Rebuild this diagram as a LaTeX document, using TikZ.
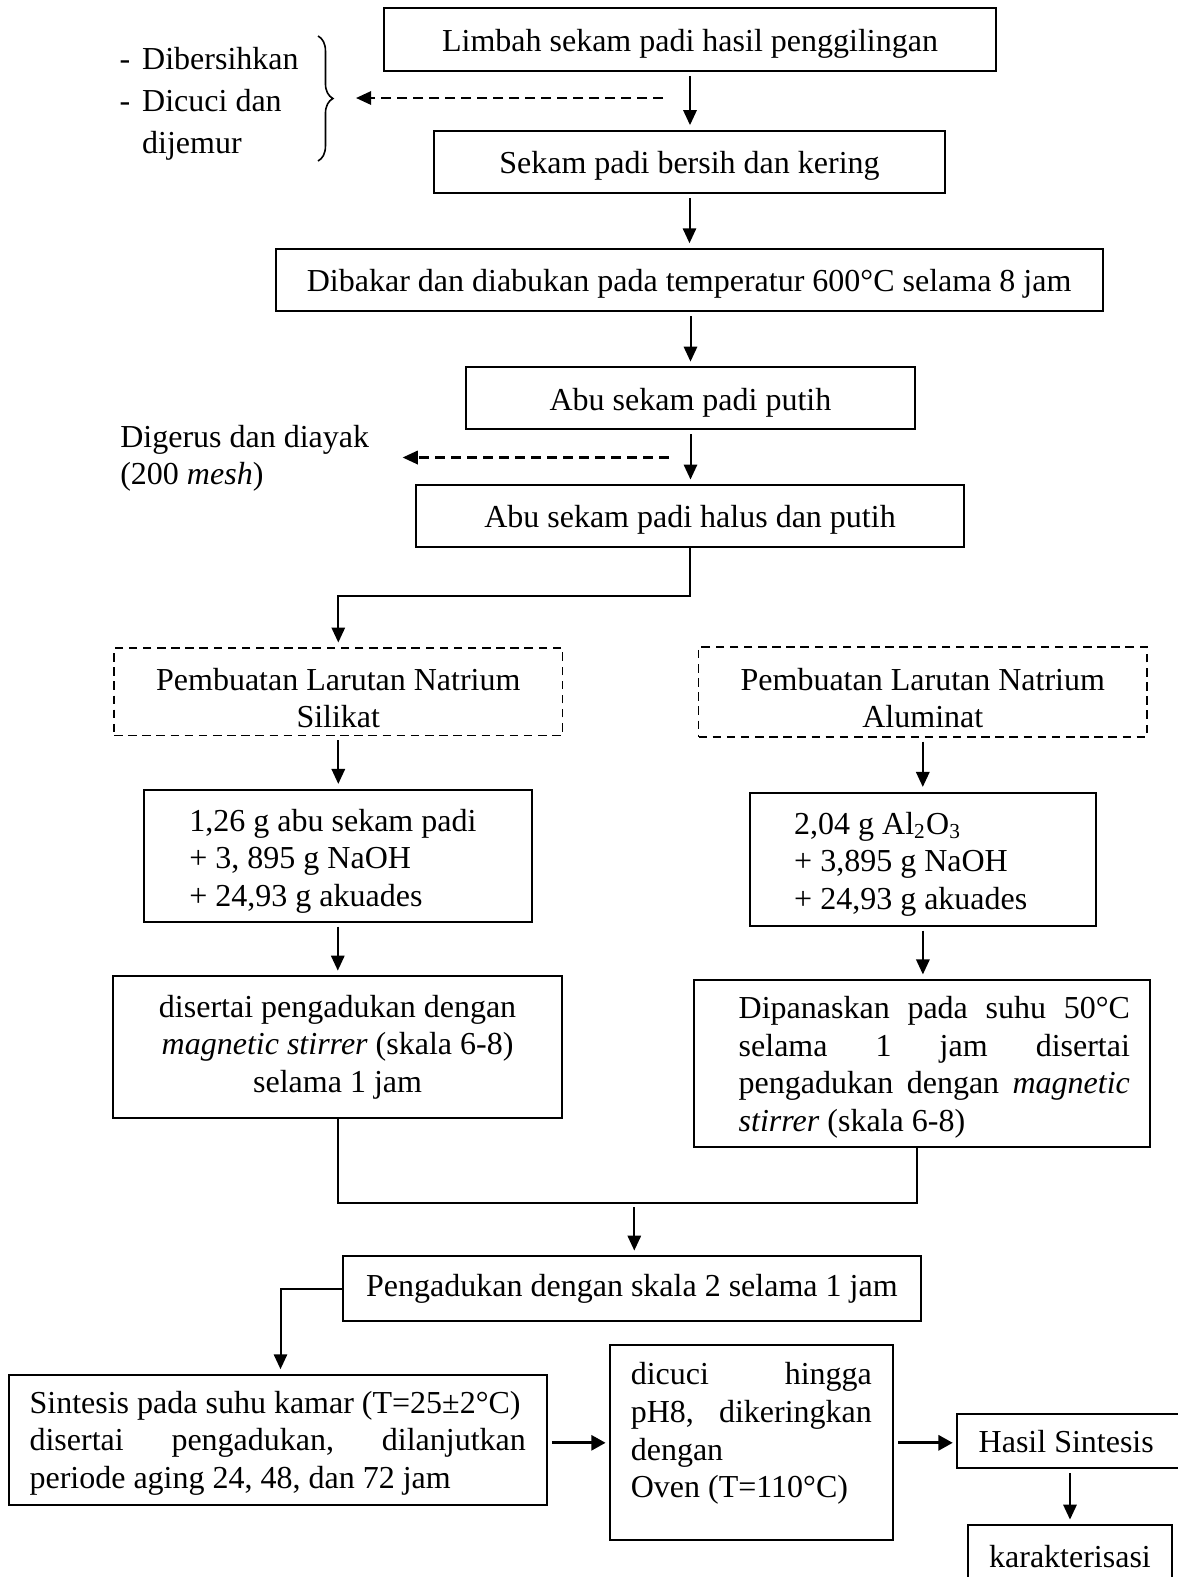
\documentclass[tikz,border=0pt]{standalone}
\usepackage{fontspec}
\setmainfont{Liberation Serif}
\usetikzlibrary{arrows.meta,decorations.pathreplacing}
\newcommand{\Lft}[2]{\makebox[#1][l]{#2}}
\newcommand{\Strut}[1]{\rule{0pt}{#1}}
\begin{document}
\begin{tikzpicture}[x=0.375pt,y=-0.375pt,
  box/.style={draw, line width=0.75pt, inner sep=0pt, font=\fontsize{12}{14.1}\selectfont, align=center},
  topbox/.style={box, text height=11.3pt, text depth=2.6pt},
  dbox/.style={box, line width=0.6pt, dash pattern=on 3.2pt off 2.1pt},
  tip/.style={-{Triangle[length=5.6pt,width=5pt]}},
  arr/.style={line width=0.75pt, tip, shorten <=1.5pt, shorten >=1.8pt},
  arrh/.style={line width=0.75pt, tip, shorten >=1.8pt},
  ln/.style={line width=0.75pt},
  darr/.style={line width=0.9pt, dash pattern=on 3.6pt off 2.4pt, -{Triangle[length=5.7pt,width=5pt]}},
  tarr/.style={line width=1.2pt, -{Triangle[length=5.4pt,width=5.6pt]}, shorten <=1.6pt, shorten >=1.3pt},
  lbl/.style={inner sep=0pt, align=left, anchor=west}
]
\path[use as bounding box] (0,0) rectangle (1178,1577);
\fill[white] (0,0) rectangle (1178,1577);
\clip (0,0) rectangle (1178,1577);

% main column
\node[topbox, minimum width=229.5pt, minimum height=23.4pt] (lim) at (690,39.6) {Limbah sekam padi hasil penggilingan};
\node[topbox, minimum width=191.6pt, minimum height=23.4pt] (sek) at (689.5,162.1) {Sekam padi bersih dan kering};
\node[topbox, minimum width=310.2pt, minimum height=23.25pt] (bak) at (689.1,280) {Dibakar dan diabukan pada temperatur 600°C selama 8 jam};
\node[topbox, minimum width=168.4pt, minimum height=23.25pt] (abu) at (690.5,398.4) {Abu sekam padi putih};
\node[topbox, minimum width=205.5pt, minimum height=23.25pt] (hal) at (690,516.3) {Abu sekam padi halus dan putih};

% side notes
\node[lbl, font=\fontsize{12}{15.8}\selectfont] (bersih) at (119,104) {\makebox[8.5pt][l]{-}Dibersihkan\\\makebox[8.5pt][l]{-}Dicuci dan\\\makebox[8.5pt][l]{}dijemur};
\node[lbl, font=\fontsize{12}{13.9}\selectfont] (gerus) at (119.8,458) {Digerus dan diayak\\(200 \textit{mesh})};
\draw[line width=0.6pt, decorate, decoration={brace, amplitude=5.6pt}] (318,36) -- (318,161);

% two branches
\node[dbox, minimum width=168.2pt, minimum height=32.7pt] (sil) at (338.3,691.7) {\Strut{13pt}Pembuatan Larutan Natrium\\Silikat};
\node[dbox, minimum width=168.2pt, minimum height=33.6pt] (alu) at (922.8,692) {\Strut{13pt}Pembuatan Larutan Natrium\\Aluminat};
\node[box, minimum width=145.7pt, minimum height=49.5pt, align=left] (sil1) at (337.8,855.7) {\Lft{111.3pt}{\Strut{12.3pt}1,26 g abu sekam padi}\\\Lft{111.3pt}{+ 3, 895 g NaOH}\\\Lft{111.3pt}{+ 24,93 g akuades}};
\node[box, minimum width=130pt, minimum height=49.8pt, align=left] (alu1) at (922.9,859.1) {\Lft{96.5pt}{\Strut{12pt}2,04 g Al\textsubscript{2}O\textsubscript{3}}\\\Lft{96.5pt}{+ 3,895 g NaOH}\\\Lft{96.5pt}{+ 24,93 g akuades}};
\node[box, minimum width=168.2pt, minimum height=52.95pt] (sil2) at (337.6,1047) {disertai pengadukan dengan\\\textit{magnetic stirrer} (skala 6-8)\\selama 1 jam};
\node[box, minimum width=170.9pt, minimum height=62.7pt, align=left] (alu2) at (922.2,1063.8) {\hbox to 155.8pt{\Strut{11pt}\hskip 9.1pt Dipanaskan\hfill pada\hfill suhu\hfill 50°C}\\\hbox to 155.8pt{\hskip 9.1pt selama\hfill 1\hfill jam\hfill disertai}\\\hbox to 155.8pt{\hskip 9.1pt pengadukan\hfill dengan\hfill \textit{magnetic}}\\\Lft{155.8pt}{\hspace*{9.1pt}\textit{stirrer} (skala 6-8)}};

% bottom part
\node[box, minimum width=217pt, minimum height=24.4pt] (peng) at (631.9,1288.9) {Pengadukan dengan skala 2 selama 1 jam};
\node[box, minimum width=201.6pt, minimum height=48.75pt, align=left] (sint) at (277.7,1440) {\Lft{186.1pt}{\Strut{10.6pt}Sintesis pada suhu kamar (T=25±2°C)}\\\hbox to 186.1pt{disertai\hfill pengadukan,\hfill dilanjutkan}\\\Lft{186.1pt}{periode aging 24, 48, dan 72 jam}};
\node[box, minimum width=106.1pt, minimum height=73.2pt] (cuci) at (751.6,1442.8) {};
\node[inner sep=0pt, font=\fontsize{12}{14.1}\selectfont, align=left] (cucit) at (751.35,1433.6) {\hbox to 90.4pt{dicuci\hfill hingga}\\\hbox to 90.4pt{pH8,\hfill dikeringkan}\\\Lft{90.4pt}{dengan}\\\Lft{90.4pt}{Oven (T=110°C)}};
\node[box, minimum width=90pt, minimum height=20.1pt, align=left] (hasil) at (1077.3,1441.2) {\Lft{73.95pt}{Hasil Sintesis}};
\node[box, minimum width=76.8pt, minimum height=23.5pt] (kar) at (1070,1556.7) {karakterisasi};

% connectors
\draw[arr] (lim.south) -- (lim.south |- sek.north);
\draw[arr] (sek.south) -- (sek.south |- bak.north);
\draw[arr] (abu.north |- bak.south) -- (abu.north);
\draw[arr] (abu.south) -- (abu.south |- hal.north);

\coordinate (d1a) at (663,98);
\coordinate (d1b) at (356,98);
\draw[darr] (d1a) -- (d1b);
\coordinate (d2a) at (668.7,457.5);
\coordinate (d2b) at (402.6,457.5);
\draw[darr] (d2a) -- (d2b);

\coordinate (br) at (690.9,595.6);
\draw[arrh] (hal.south) |- (sil.north |- br) -- (sil.north);
\draw[arr] (sil.south) -- (sil.south |- sil1.north);
\draw[arr] (sil1.south) -- (sil1.south |- sil2.north);
\draw[arr] (alu.south) -- (alu.south |- alu1.north);
\draw[arr] (alu1.south) -- (alu1.south |- alu2.north);

\coordinate (mg) at (634.3,1203.2);
\coordinate (mgr) at (917,1203.2);
\draw[ln] (sil2.south) |- (mgr) -- (mgr |- alu2.south);
\draw[arr] (mg) -- (mg |- peng.north);

\coordinate (sd) at (280.5,1288.9);
\draw[arrh] (peng.west) -- (sd) -- (sd |- sint.north);
\draw[tarr] (sint.east |- cuci.west) -- (cuci.west);
\draw[tarr] (cuci.east) -- (cuci.east -| hasil.west);
\draw[arr] (kar.north |- hasil.south) -- (kar.north);
\end{tikzpicture}
\end{document}
